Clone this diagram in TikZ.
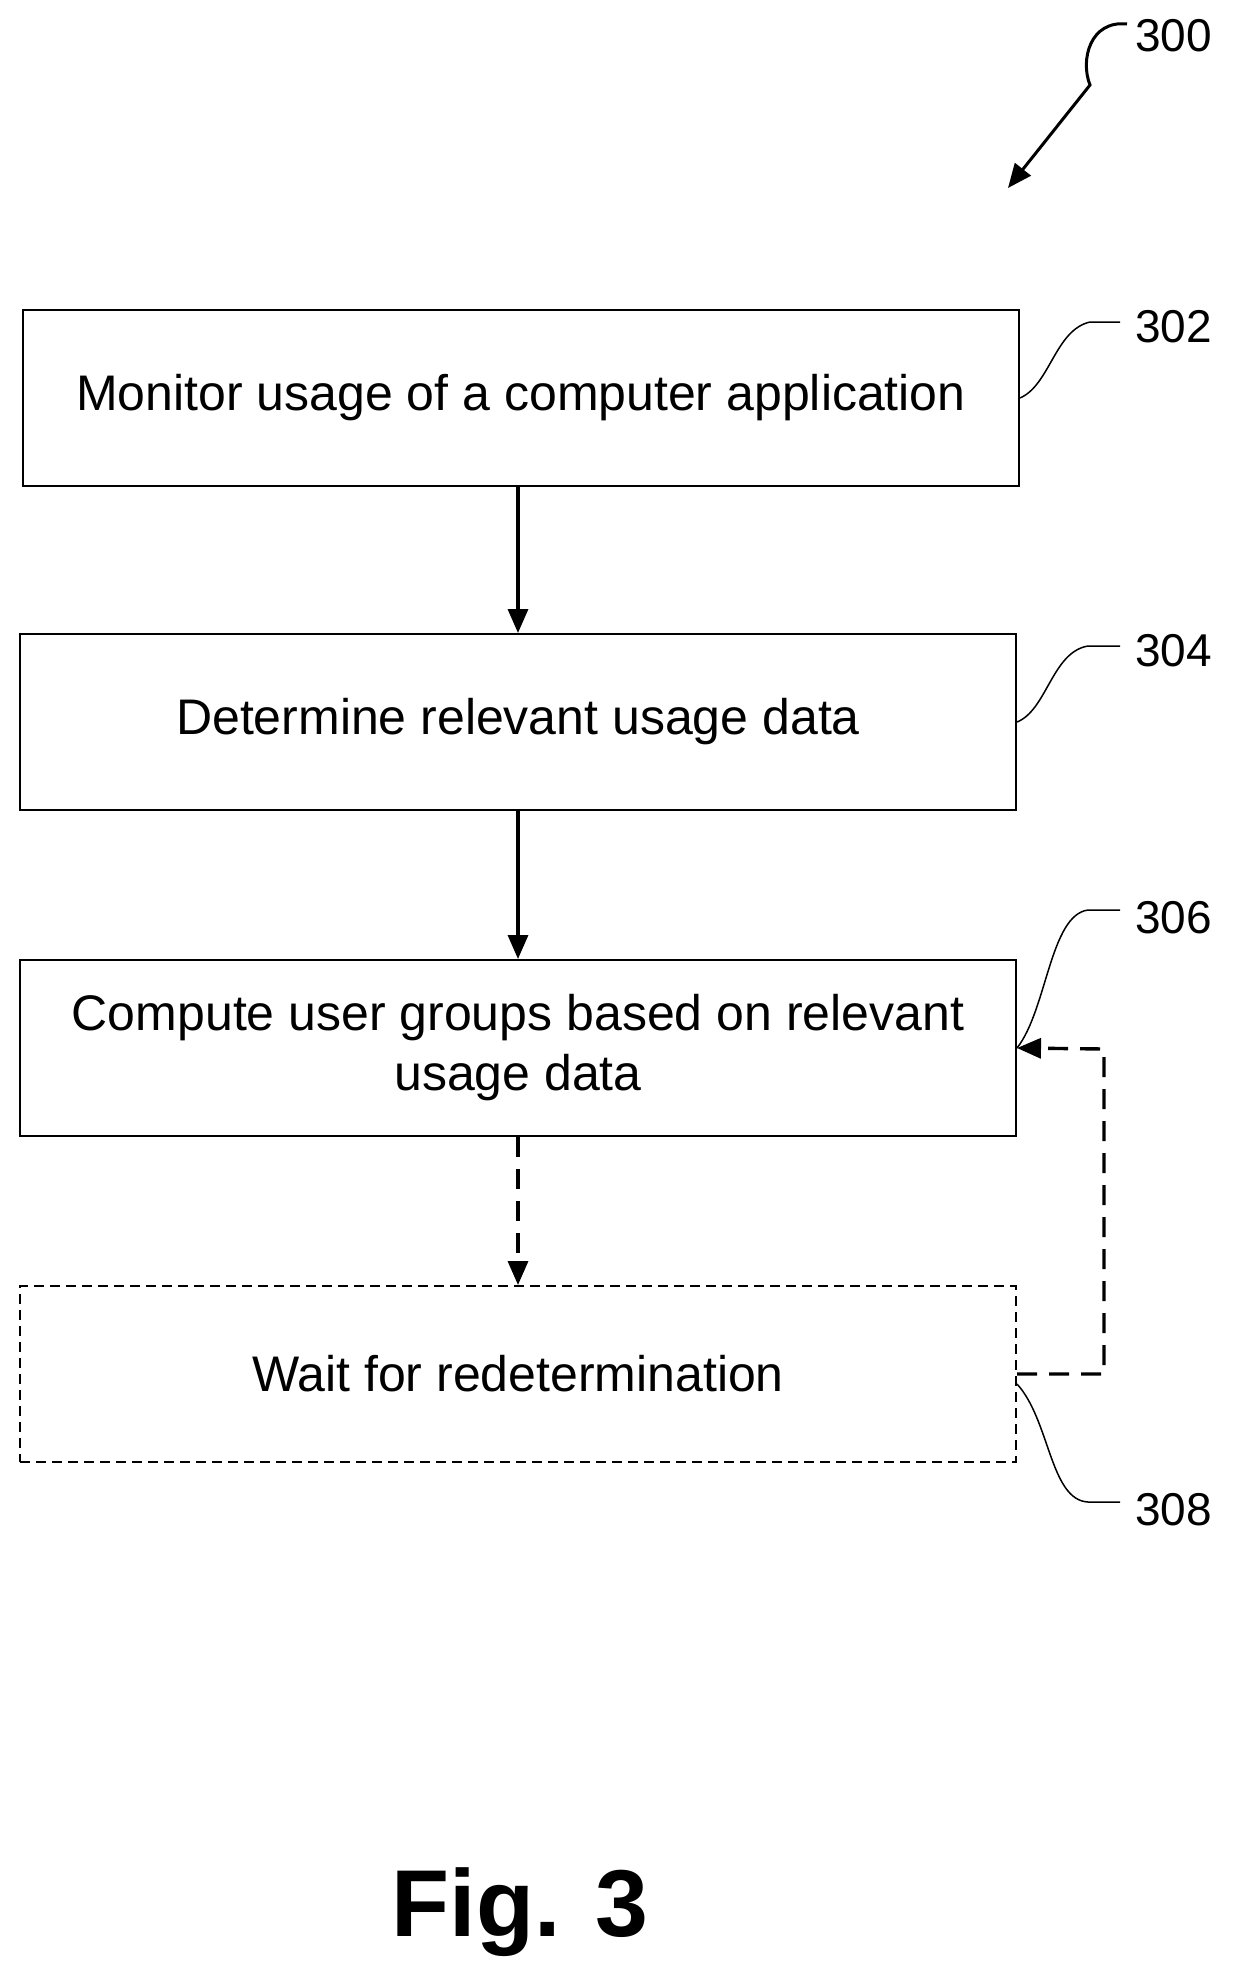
\documentclass[tikz,border=0pt]{standalone}
\usepackage{fontspec}
\setmainfont{Liberation Sans}
\usetikzlibrary{arrows.meta}
\begin{document}
\begin{tikzpicture}[x=1pt,y=-1pt,
  box/.style={draw,line width=2pt,minimum width=996pt,minimum height=176pt,align=center,font=\fontsize{50}{60}\selectfont,inner sep=0pt},
  lab/.style={font=\fontsize{46}{50}\selectfont,anchor=west,inner sep=0pt},
  arr/.style={line width=3.4pt,-{Triangle[length=24pt,width=20pt]}},
  dsh/.style={dash pattern=on 20pt off 12pt},
  lead/.style={line width=1.5pt}]
\useasboundingbox (0,0) rectangle (1237,1987);
\node[box] (b1) at (521,398) {Monitor usage of a computer application};
\node[box] (b2) at (518,722) {Determine relevant usage data};
\node[box] (b3) at (518,1048) {Compute user groups based on relevant\\usage data};
\node[box,dash pattern=on 10pt off 6pt] (b4) at (518,1374) {Wait for redetermination};
\draw[arr] (b1.south-|b2.north) -- (b2.north);
\draw[arr] (b2.south) -- (b3.north);
\draw[arr,dsh] (b3.south) -- (b4.north);
\coordinate (c1) at (1104,1374);
\coordinate (c2) at (1104,1049);
\draw[arr,dsh] (b4.east) -- (c1) -- (c2) -- (b3.east);
\node[lab] (l300) at (1135,36) {300};
\node[lab] (l302) at (1135,327) {302};
\node[lab] (l304) at (1135,651) {304};
\node[lab] (l306) at (1135,918) {306};
\node[lab] (l308) at (1135,1510) {308};
\coordinate (t300) at (1008,188);
\draw[arr,line width=3pt] (l300.west) ++(-8,-12) .. controls (1090,20) and (1080,60) .. (1090,85) -- (t300);
\draw[lead] (b1.east) .. controls (1050,385) and (1055,330) .. (1090,322) -- (1120,322);
\draw[lead] (b2.east) .. controls (1047,710) and (1052,652) .. (1088,646) -- (1120,646);
\draw[lead] (b3.east) .. controls (1047,1010) and (1050,915) .. (1088,910) -- (1120,910);
\draw[lead] (b4.east) ++(0,10) .. controls (1050,1420) and (1050,1500) .. (1088,1502) -- (1120,1502);
\node[font=\bfseries\fontsize{95}{100}\selectfont] (fig) at (520,1912) {Fig. 3};
\end{tikzpicture}
\end{document}
